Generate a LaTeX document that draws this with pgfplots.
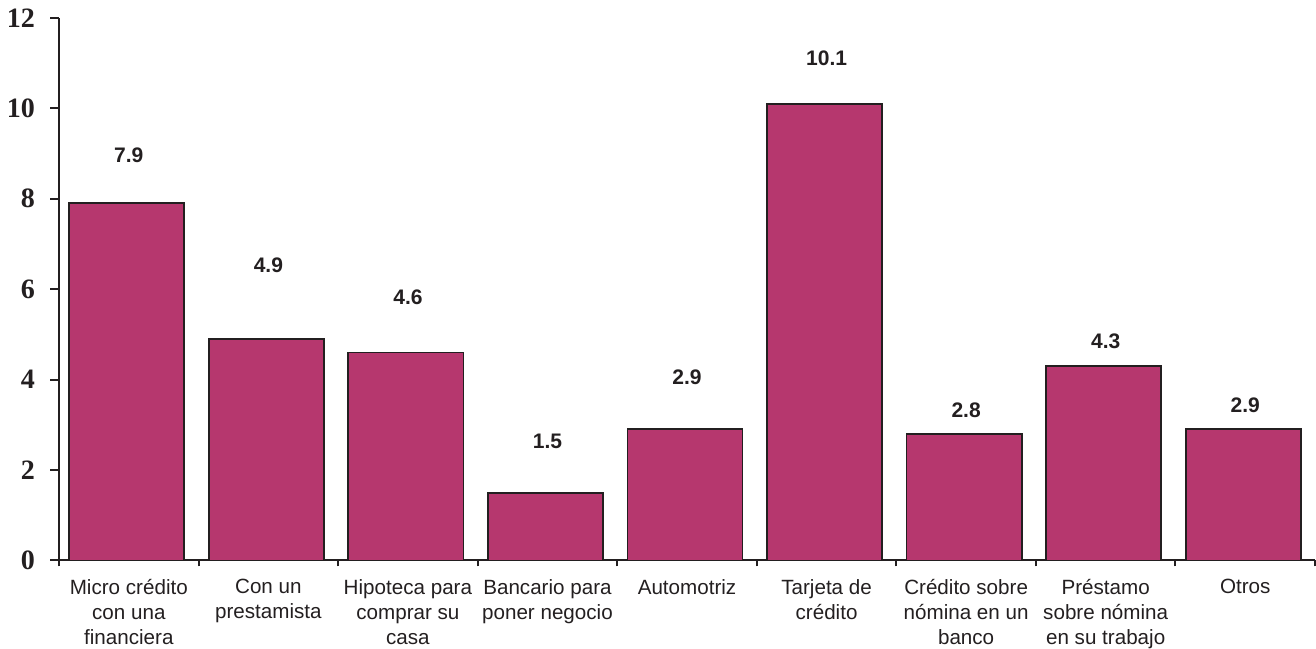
\documentclass[border=0pt]{standalone}
\usepackage{fontspec}
\setmainfont{Liberation Sans}
\newfontfamily\timesfont{Liberation Serif}
\usepackage{pgfplots}
\usepackage{pgfplotstable}
\pgfplotsset{compat=1.18}
\definecolor{barc}{RGB}{182,55,110}
\definecolor{ink}{RGB}{35,31,32}
\pgfplotstableread{
x v ly
0 7.9 8.97
1 4.9 6.53
2 4.6 5.82
3 1.5 2.63
4 2.9 4.05
5 10.1 11.11
6 2.8 3.32
7 4.3 4.85
8 2.9 3.43
}\datatable
\begin{document}
\begin{tikzpicture}
\begin{axis}[
  scale only axis,
  width=627.5pt, height=271pt,
  xmin=-0.5, xmax=8.5,
  ymin=0, ymax=12,
  axis lines=left,
  axis line style={-, line width=1pt, ink},
  ytick={0,2,...,12},
  yticklabel style={font=\fontsize{14}{16}\timesfont\bfseries, text=ink, xshift=-4pt},
  /pgf/number format/assume math mode=true,
  ytick style={line width=1pt, ink},
  major tick length=4.5pt,
  tick align=outside,
  xtick={0,...,8},
  xticklabels={{Micro crédito\\con una\\financiera},{Con un\\prestamista},{Hipoteca para\\comprar su\\casa},{Bancario para\\poner negocio},{Automotriz},{Tarjeta de\\crédito},{Crédito sobre\\nómina en un\\banco},{Préstamo\\sobre nómina\\en su trabajo},{Otros}},
  xticklabel style={font=\fontsize{10.3}{12.5}\selectfont, align=center, text=ink, anchor=north, yshift=-1.5pt},
  x tick style={draw=none},
  extra x ticks={-0.5,0.5,1.5,2.5,3.5,4.5,5.5,6.5,7.5,8.5},
  extra x tick labels={},
  extra x tick style={x tick style={draw=ink, line width=1pt}, major tick length=3pt},
  clip=false,
]
\addplot[ybar, bar width=57.5pt, bar shift=-1pt, fill=barc, draw=ink, line width=0.9pt] table[x=x, y=v] {\datatable};
\addplot[only marks, mark=none, nodes near coords, point meta=explicit,
  every node near coord/.style={font=\fontsize{10.5}{12}\selectfont\bfseries, text=ink, anchor=center},
  nodes near coords={\pgfmathprintnumber[fixed, precision=1, fixed zerofill]{\pgfplotspointmeta}}]
  table[x=x, y=ly, meta=v] {\datatable};
\end{axis}
\pgfresetboundingbox
\path ([xshift=-29.5pt, yshift=-44pt]current axis.south west) rectangle ([xshift=0.5pt, yshift=9pt]current axis.north east);
\end{tikzpicture}
\end{document}
